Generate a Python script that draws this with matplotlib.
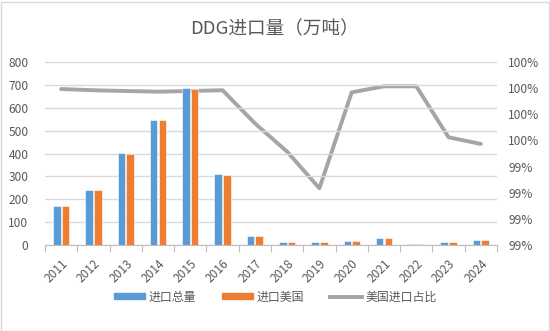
import matplotlib
matplotlib.use("Agg")
import matplotlib.pyplot as plt
import numpy as np
from matplotlib.ticker import FuncFormatter, FixedLocator
from matplotlib.patches import Rectangle
from matplotlib.lines import Line2D

plt.rcParams['font.family'] = ['Noto Sans CJK SC', 'DejaVu Sans']

years = ['2011', '2012', '2013', '2014', '2015', '2016', '2017',
         '2018', '2019', '2020', '2021', '2022', '2023', '2024']
total_import = [169, 239, 401, 546, 685, 309, 38, 12, 12, 17, 31, 6, 12, 22]
us_import = [169, 239, 400, 545, 684, 308, 38, 12, 12, 17, 31, 6, 12, 22]
us_share = [0.99893, 0.99884, 0.99878, 0.99873, 0.99878, 0.99884, 0.99631,
            0.99414, 0.99134, 0.99868, 0.99914, 0.99914, 0.99524, 0.99473]

text_color = '#595959'
blue = '#5B9BD5'
orange = '#ED7D31'
gray = '#A5A5A5'
grid_color = '#D9D9D9'

fig = plt.figure(figsize=(5.5, 3.31), dpi=100)
ax = fig.add_axes([45/550, 1-245/331, (497-45)/550, (245-62)/331])
ax2 = ax.twinx()

x = np.arange(len(years))
w = 0.235
ax.bar(x - 0.135, total_import, width=w, color=blue, edgecolor='white', linewidth=0.4, zorder=2)
ax.bar(x + 0.135, us_import, width=w, color=orange, edgecolor='white', linewidth=0.4, zorder=2)
ax2.plot(x, us_share, color=gray, linewidth=2.8, solid_capstyle='round', solid_joinstyle='round', zorder=3)

ax.set_xlim(-0.5, len(years) - 0.5)
ax.set_ylim(0, 800)
ax.set_yticks(np.arange(0, 801, 100))
ax.yaxis.grid(True, color=grid_color, linewidth=1)
ax.set_axisbelow(True)
for s in ['top', 'right', 'left']:
    ax.spines[s].set_visible(False)
    ax2.spines[s].set_visible(False)
ax2.spines['bottom'].set_visible(False)
ax.spines['bottom'].set_color('#BFBFBF')
ax.tick_params(axis='y', length=0, labelsize=8.6, labelcolor=text_color, pad=12)
ax.set_xticks(x)
ax.set_xticklabels(years, rotation=45, ha='right', va='top', rotation_mode='anchor')
ax.tick_params(axis='x', which='major', length=0, labelsize=8.6, labelcolor=text_color, pad=9)
ax.xaxis.set_minor_locator(FixedLocator(np.arange(-0.5, len(years), 1.0)))
ax.tick_params(axis='x', which='minor', length=5, color='#BFBFBF', width=0.8)

ax2.set_ylim(0.987, 1.001)
ax2.set_yticks([0.987 + 0.002 * i for i in range(8)])
ax2.yaxis.set_major_formatter(FuncFormatter(lambda v, p: f"{int(np.floor(v * 100 + 0.5 + 1e-9))}%"))
ax2.tick_params(axis='y', length=0, labelsize=8.6, labelcolor=text_color, pad=8)
# bars drawn in front of the line, as in the reference
ax2.set_zorder(1)
ax.set_zorder(2)
ax.patch.set_visible(False)
ax2.patch.set_visible(False)

fig.text(0.5, 1 - 29/331, 'DDG进口量（万吨）', ha='center', va='center', fontsize=13.4, color=text_color)

handles = [
    Rectangle((0, 0), 1, 1, color=blue),
    Rectangle((0, 0), 1, 1, color=orange),
    Line2D([0], [0], color=gray, linewidth=2.8),
]
labels = ['进口总量', '进口美国', '美国进口占比']
leg = fig.legend(handles, labels, loc='center', bbox_to_anchor=(0.5, 1 - 297/331), ncol=3,
                 frameon=False, fontsize=8.6, labelcolor=text_color, handlelength=2.6,
                 handleheight=0.4, handletextpad=0.3, columnspacing=2.2)

fig.add_artist(Rectangle((0.5/550, 0.5/331), 1 - 2/550, 1 - 2/331, transform=fig.transFigure,
                         fill=False, edgecolor='#D9D9D9', linewidth=1))

fig.savefig('out.png', dpi=100, facecolor='white')
